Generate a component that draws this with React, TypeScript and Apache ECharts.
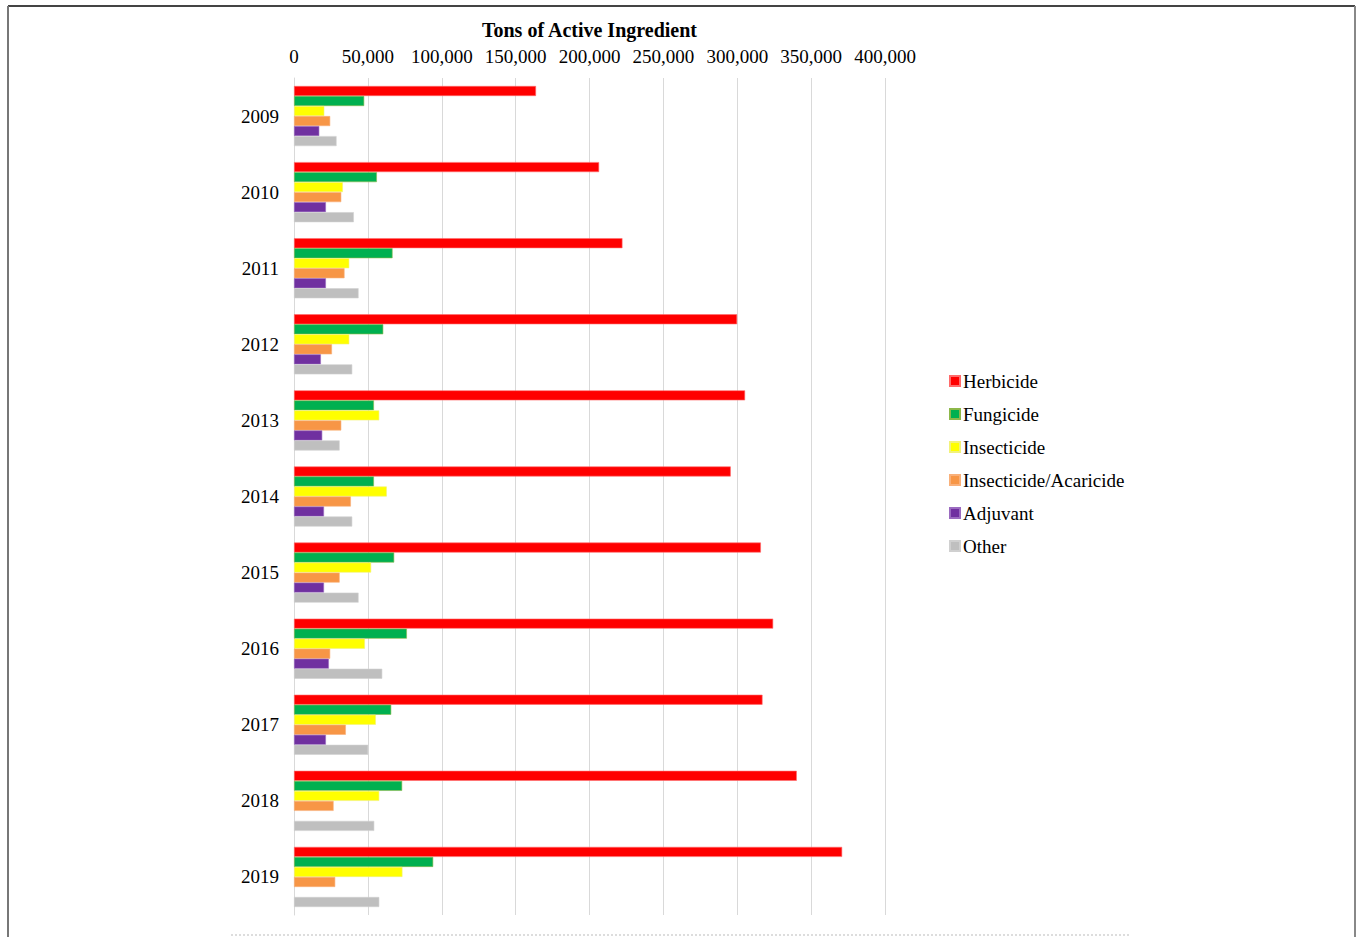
import React, { useEffect, useRef } from "react";
import * as echarts from "echarts";

const years = ["2009", "2010", "2011", "2012", "2013", "2014", "2015", "2016", "2017", "2018", "2019"];
const herbicide = [163800, 206500, 222300, 299900, 305300, 295600, 316000, 324300, 317100, 340300, 371000];
const fungicide = [47500, 56100, 66700, 60400, 54100, 54100, 67800, 76400, 65800, 73200, 94200];
const insecticide = [20500, 33100, 37400, 37400, 57700, 62800, 52200, 48000, 55400, 57700, 73400];
const insecticideAcaricide = [24500, 32000, 34200, 25700, 32000, 38500, 30900, 24500, 35100, 26800, 27900];
const adjuvant = [17100, 21600, 21600, 18200, 19100, 20300, 20300, 23600, 21600, null, null];
const other = [28800, 40500, 43700, 39400, 30900, 39400, 43700, 59700, 50200, 54300, 57700];

const seriesNames = ["Herbicide", "Fungicide", "Insecticide", "Insecticide/Acaricide", "Adjuvant", "Other"];
const seriesData = [herbicide, fungicide, insecticide, insecticideAcaricide, adjuvant, other];
const colors = ["#FF0000", "#00B050", "#FFFF00", "#F79646", "#7030A0", "#BFBFBF"];
const borders = ["#FF6B6B", "#8DB84A", "#F2F27A", "#F9B07A", "#9B6BC0", "#D0D0D0"];

const FONT = '"Liberation Serif", "Times New Roman", serif';

export default function App() {
  const ref = useRef<HTMLDivElement>(null);
  useEffect(() => {
    if (!ref.current) return;
    const chart = echarts.init(ref.current, undefined, { renderer: "svg" });
    chart.setOption({
      animation: false,
      backgroundColor: "#ffffff",
      textStyle: { fontFamily: FONT },
      grid: { left: 294, right: 475, top: 78, bottom: 22, containLabel: false },
      legend: {
        orient: "vertical",
        left: 949,
        top: 371,
        padding: 0,
        itemWidth: 10,
        itemHeight: 10,
        itemGap: 13,
        icon: "rect",
        textStyle: { fontFamily: FONT, fontSize: 19, color: "#000", lineHeight: 20, padding: [0, 0, 0, -2] },
        data: seriesNames,
      },
      xAxis: {
        type: "value",
        position: "top",
        min: 0,
        max: 400000,
        interval: 50000,
        name: "Tons of Active Ingredient",
        nameLocation: "middle",
        nameGap: 38,
        nameTextStyle: { fontFamily: FONT, fontSize: 20, fontWeight: "bold", color: "#000" },
        axisLine: { show: false },
        axisTick: { show: false },
        axisLabel: {
          margin: 12,
          fontFamily: FONT,
          fontSize: 19,
          color: "#000",
          formatter: (v: number) => v.toLocaleString("en-US"),
        },
        splitLine: { show: true, lineStyle: { color: "#d9d9d9", width: 1 } },
      },
      yAxis: {
        type: "category",
        inverse: true,
        data: years,
        axisLine: { show: true, lineStyle: { color: "#d9d9d9" } },
        axisTick: { show: false },
        axisLabel: { margin: 15, fontFamily: FONT, fontSize: 19, color: "#000" },
        splitLine: { show: false },
      },
      series: seriesNames.map((name, i) => ({
        name,
        type: "bar",
        data: seriesData[i],
        barGap: "0%",
        barCategoryGap: "21%",
        itemStyle: { color: colors[i], borderColor: borders[i], borderWidth: 0.6 },
      })),
      graphic: [
        { type: "line", shape: { x1: 8, y1: 6, x2: 1355, y2: 6 }, style: { stroke: "#444", lineWidth: 2 } },
        { type: "line", shape: { x1: 8, y1: 6, x2: 8, y2: 937 }, style: { stroke: "#777", lineWidth: 2 } },
        { type: "line", shape: { x1: 1355, y1: 6, x2: 1355, y2: 937 }, style: { stroke: "#888", lineWidth: 2 } },
        { type: "line", shape: { x1: 231, y1: 935, x2: 1131, y2: 935 }, style: { stroke: "#bbb", lineWidth: 1, lineDash: [2, 2] } },
      ],
    });
    return () => chart.dispose();
  }, []);
  return (
    <div
      ref={ref}
      style={{ position: "fixed", left: 0, top: 0, width: 1360, height: 937, background: "#fff" }}
    />
  );
}
